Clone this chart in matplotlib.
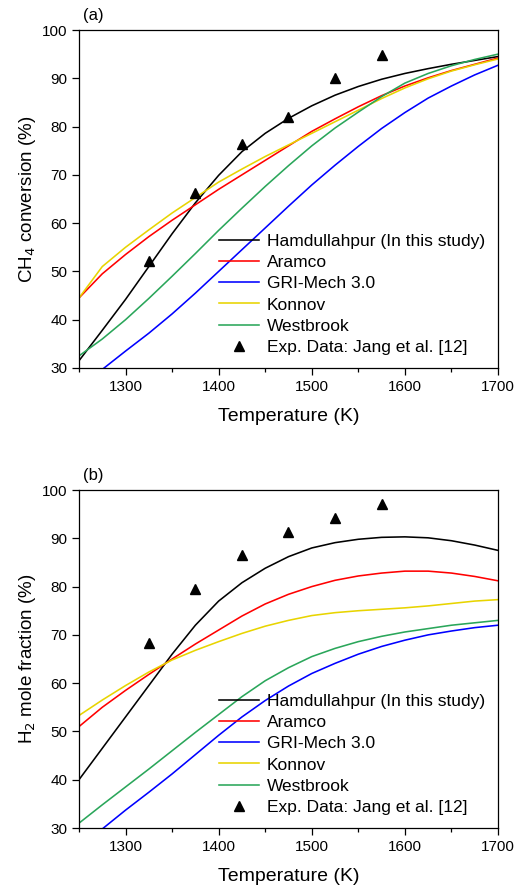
import matplotlib.pyplot as plt
from matplotlib.ticker import MultipleLocator

plt.rcParams['font.family'] = ['Liberation Sans', 'DejaVu Sans']

T = [1250, 1275, 1300, 1325, 1350, 1375, 1400, 1425, 1450, 1475, 1500,
     1525, 1550, 1575, 1600, 1625, 1650, 1675, 1700]

# (a) CH4 conversion (%)
ch4_ham = [31.5, 37.8, 44.2, 51.0, 57.8, 64.2, 69.9, 74.8, 78.6, 81.7, 84.3,
           86.5, 88.3, 89.8, 91.0, 92.0, 92.9, 93.7, 94.5]
ch4_ara = [44.5, 49.5, 53.5, 57.2, 60.6, 63.8, 67.0, 70.0, 73.0, 76.0, 79.0,
           81.6, 84.1, 86.4, 88.4, 90.1, 91.6, 92.9, 94.2]
ch4_gri = [25.0, 29.7, 33.5, 37.2, 41.2, 45.5, 50.0, 54.5, 59.0, 63.5, 67.9,
           72.0, 75.9, 79.6, 82.9, 85.9, 88.4, 90.7, 92.7]
ch4_kon = [44.5, 51.0, 55.0, 58.6, 62.1, 65.3, 68.5, 71.2, 73.8, 76.2, 78.6,
           81.0, 83.4, 85.8, 88.0, 89.9, 91.5, 92.8, 94.0]
ch4_wes = [32.5, 36.0, 40.0, 44.4, 49.0, 53.7, 58.5, 63.1, 67.6, 71.9, 76.0,
           79.7, 83.0, 86.2, 89.0, 91.0, 92.6, 93.9, 95.0]
exp_T = [1325, 1375, 1425, 1475, 1525, 1575]
ch4_exp = [52.2, 66.3, 76.3, 82.0, 90.0, 94.8]

# (b) H2 mole fraction (%)
h2_ham = [40.0, 46.5, 53.0, 59.5, 66.0, 72.0, 77.0, 80.8, 83.8, 86.2, 88.0,
          89.1, 89.8, 90.2, 90.3, 90.1, 89.5, 88.6, 87.5]
h2_ara = [51.0, 55.0, 58.5, 61.8, 65.0, 68.1, 71.0, 73.9, 76.4, 78.4, 80.0,
          81.3, 82.2, 82.8, 83.2, 83.2, 82.8, 82.1, 81.2]
h2_gri = [26.0, 29.8, 33.7, 37.4, 41.2, 45.2, 49.2, 53.0, 56.4, 59.4, 62.0,
          64.1, 66.0, 67.6, 68.9, 70.0, 70.8, 71.5, 72.0]
h2_kon = [53.3, 56.5, 59.5, 62.3, 64.8, 66.8, 68.6, 70.3, 71.8, 73.0, 74.0,
          74.6, 75.0, 75.3, 75.6, 76.0, 76.5, 77.0, 77.3]
h2_wes = [31.0, 34.8, 38.5, 42.2, 46.0, 49.8, 53.5, 57.2, 60.5, 63.2, 65.5,
          67.2, 68.6, 69.7, 70.6, 71.3, 72.0, 72.5, 73.0]
h2_exp = [68.3, 79.4, 86.5, 91.4, 94.2, 97.1]

labels = ['Hamdullahpur (In this study)', 'Aramco', 'GRI-Mech 3.0', 'Konnov', 'Westbrook']
colors = ['black', '#ff0000', '#0000ff', '#e8d400', '#2aa65a']
exp_label = 'Exp. Data: Jang et al. [12]'

fig = plt.figure(figsize=(5.22, 8.85), dpi=100)
ax1 = fig.add_axes([0.1513, 0.5842, 0.8027, 0.3819])
ax2 = fig.add_axes([0.1513, 0.0644, 0.8027, 0.3819])

panels = [
    (ax1, [ch4_ham, ch4_ara, ch4_gri, ch4_kon, ch4_wes], ch4_exp,
     'CH$_4$ conversion (%)', '(a)'),
    (ax2, [h2_ham, h2_ara, h2_gri, h2_kon, h2_wes], h2_exp,
     'H$_2$ mole fraction (%)', '(b)'),
]

for ax, series, exp, ylab, tag in panels:
    for ys, lab, c in zip(series, labels, colors):
        ax.plot(T, ys, color=c, lw=1.15, label=lab)
    ax.plot(exp_T, exp, '^', color='black', ms=6.5, ls='none', label=exp_label)
    ax.set_xlim(1250, 1700)
    ax.set_ylim(30, 100)
    ax.xaxis.set_major_locator(MultipleLocator(100))
    ax.xaxis.set_minor_locator(MultipleLocator(50))
    ax.yaxis.set_major_locator(MultipleLocator(10))
    ax.tick_params(which='both', direction='out', top=False, right=False,
                   labelsize=11, width=0.9)
    ax.tick_params(which='major', length=5)
    ax.tick_params(which='minor', length=3)
    for s in ax.spines.values():
        s.set_linewidth(0.9)
    ax.set_xlabel('Temperature (K)', fontsize=14, labelpad=10)
    ax.set_ylabel(ylab, fontsize=13.5, labelpad=3)
    ax.text(0.01, 1.02, tag, transform=ax.transAxes, fontsize=12,
            ha='left', va='bottom')
    ax.legend(loc='lower right', frameon=False, fontsize=12.5,
              handlelength=2.3, handletextpad=0.45, labelspacing=0.35,
              borderaxespad=0.35, numpoints=1)

fig.savefig('out.png', dpi=100)
